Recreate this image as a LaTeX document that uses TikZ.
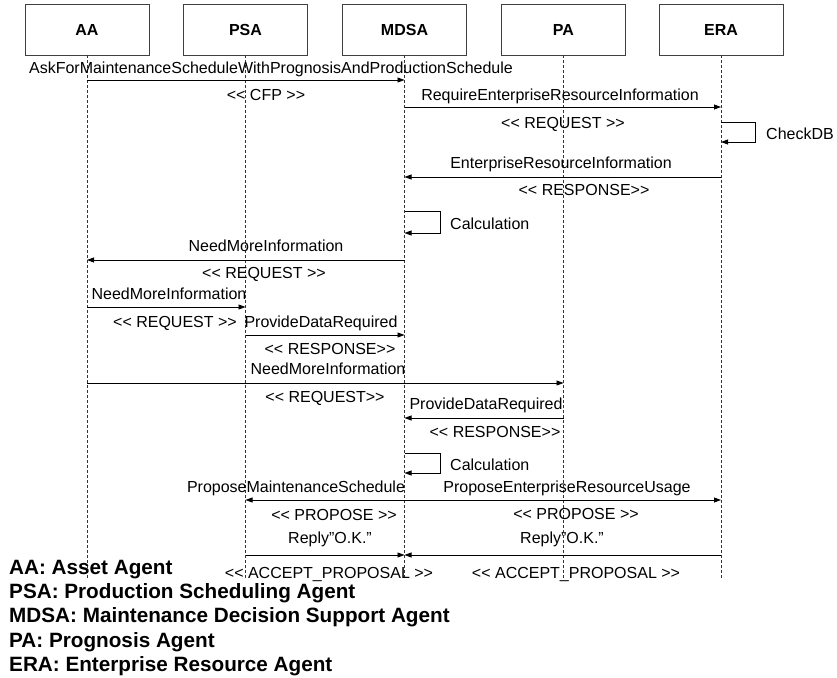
\documentclass[tikz,border=0pt]{standalone}
\usepackage{fontspec}
\setmainfont{Liberation Sans}[Ligatures=TeXOff]
\usetikzlibrary{arrows.meta}
\begin{document}
\begin{tikzpicture}[x=1pt,y=-1pt,
  agent/.style={draw=black!75, line width=0.9pt, fill=white, minimum width=124pt,
    minimum height=51pt, inner sep=0pt, font=\fontsize{16}{19}\selectfont\bfseries},
  lifeline/.style={draw=black!80, line width=0.8pt, dash pattern=on 3pt off 2pt},
  msg/.style={draw=black, line width=0.8pt, -{Triangle[length=7pt,width=5pt]}},
  lbl/.style={anchor=mid, inner sep=0pt, yshift=-3pt, font=\fontsize{16}{19}\selectfont},
  note/.style={anchor=mid west, inner sep=0pt, yshift=-2pt, font=\fontsize{16}{19}\selectfont},
  legend/.style={anchor=base west, inner sep=0pt, font=\fontsize{20.7}{24}\selectfont\bfseries}]
\useasboundingbox (0,0) rectangle (837,677);

% agents
\node[agent] (AA)   at (87,29.5)    {AA};
\node[agent] (PSA)  at (245.5,29.5) {PSA};
\node[agent] (MDSA) at (404.5,29.5) {MDSA};
\node[agent] (PA)   at (563.5,29.5) {PA};
\node[agent] (ERA)  at (721,29.5)   {ERA};

% lifelines
\foreach \a in {AA,PSA,MDSA,PA,ERA}
  \draw[lifeline] (\a.south) -- (\a |- 0,578);

% 1: AA -> MDSA
\draw[msg] (AA |- 0,80) -- (MDSA |- 0,80);
\node[lbl] (m1) at (271,68) {AskForMaintenanceScheduleWithPrognosisAndProductionSchedule};
\node[lbl] (s1) at (266,95) {<< CFP >>};

% 2: MDSA -> ERA
\draw[msg] (MDSA |- 0,107) -- (ERA |- 0,107);
\node[lbl] (m2) at (560,95) {RequireEnterpriseResourceInformation};
\node[lbl] (s2) at (563,123) {<< REQUEST >>};

% 3: ERA self call
\draw[msg] (ERA |- 0,122) -- ++(34,0) -- ++(0,20) -- (ERA |- 0,142);
\node[note] (n3) at (766,135) {CheckDB};

% 4: ERA -> MDSA
\draw[msg] (ERA |- 0,177) -- (MDSA |- 0,177);
\node[lbl] (m4) at (561,163) {EnterpriseResourceInformation};
\node[lbl] (s4) at (584,190) {<< RESPONSE>>};

% 5: MDSA self call
\draw[msg] (MDSA |- 0,211) -- ++(36,0) -- ++(0,22) -- (MDSA |- 0,233);
\node[note] (n5) at (450,225) {Calculation};

% 6: MDSA -> AA
\draw[msg] (MDSA |- 0,260) -- (AA |- 0,260);
\node[lbl] (m6) at (266,246) {NeedMoreInformation};
\node[lbl] (s6) at (264,273) {<< REQUEST >>};

% 7: AA -> PSA
\draw[msg] (AA |- 0,307) -- (PSA |- 0,307);
\node[lbl] (m7) at (169,294) {NeedMoreInformation};
\node[lbl] (s7) at (175,322) {<< REQUEST >>};

% 8: PSA -> MDSA
\draw[msg] (PSA |- 0,335) -- (MDSA |- 0,335);
\node[lbl] (m8) at (321,322) {ProvideDataRequired};
\node[lbl] (s8) at (330,349) {<< RESPONSE>>};

% 9: AA -> PA
\draw[msg] (AA |- 0,383) -- (PA |- 0,383);
\node[lbl] (m9) at (328,369) {NeedMoreInformation};
\node[lbl] (s9) at (325,397) {<< REQUEST>>};

% 10: PA -> MDSA
\draw[msg] (PA |- 0,418) -- (MDSA |- 0,418);
\node[lbl] (m10) at (486,404) {ProvideDataRequired};
\node[lbl] (s10) at (495,432) {<< RESPONSE>>};

% 11: MDSA self call
\draw[msg] (MDSA |- 0,453) -- ++(36,0) -- ++(0,20) -- (MDSA |- 0,473);
\node[note] (n11) at (450,466) {Calculation};

% 12: MDSA -> PSA
\draw[msg] (MDSA |- 0,500) -- (PSA |- 0,500);
\node[lbl] (m12) at (296,487) {ProposeMaintenanceSchedule};
\node[lbl] (s12) at (334,515) {<< PROPOSE >>};

% 13: MDSA -> ERA
\draw[msg] (MDSA |- 0,500) -- (ERA |- 0,500);
\node[lbl] (m13) at (567,487) {ProposeEnterpriseResourceUsage};
\node[lbl] (s13) at (576,514) {<< PROPOSE >>};

% 14: PSA -> MDSA
\draw[msg] (PSA |- 0,555) -- (MDSA |- 0,555);
\node[lbl] (m14) at (330,538) {Reply”O.K.”};
\node[lbl] (s14) at (329,573) {<< ACCEPT\_PROPOSAL >>};

% 15: ERA -> MDSA
\draw[msg] (ERA |- 0,555) -- (MDSA |- 0,555);
\node[lbl] (m15) at (562,538) {Reply”O.K.”};
\node[lbl] (s15) at (576,573) {<< ACCEPT\_PROPOSAL >>};

% legend
\node[legend] (k1) at (9,574) {AA: Asset Agent};
\node[legend] (k2) at (9,598) {PSA: Production Scheduling Agent};
\node[legend] (k3) at (9,622.5) {MDSA: Maintenance Decision Support Agent};
\node[legend] (k4) at (9,647) {PA: Prognosis Agent};
\node[legend] (k5) at (9,671.5) {ERA: Enterprise Resource Agent};
\end{tikzpicture}
\end{document}
